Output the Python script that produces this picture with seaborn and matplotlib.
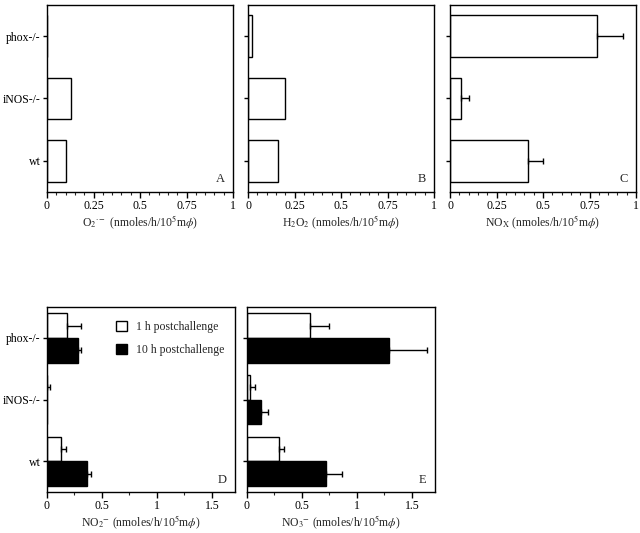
import pandas as pd
import matplotlib
matplotlib.use('Agg')
import matplotlib.pyplot as plt
import seaborn as sns
from matplotlib.ticker import MultipleLocator, FormatStrFormatter

# data
genotypes = ['phox-/-', 'iNOS-/-', 'wt']

o2 = [0.0, 0.13, 0.10]
h2o2 = [0.02, 0.20, 0.16]
nox = [0.79, 0.06, 0.42]
nox_err = [0.14, 0.04, 0.08]

times = ['1 h postchallenge', '10 h postchallenge']
no2_1h = [0.18, 0.0, 0.13]
no2_1h_err = [0.13, 0.03, 0.04]
no2_10h = [0.28, 0.0, 0.36]
no2_10h_err = [0.03, 0.0, 0.04]
no3_1h = [0.57, 0.03, 0.29]
no3_1h_err = [0.18, 0.04, 0.05]
no3_10h = [1.29, 0.13, 0.72]
no3_10h_err = [0.35, 0.06, 0.14]

sns.set_style('ticks')
plt.rcParams['font.family'] = ['Liberation Serif', 'DejaVu Serif']
plt.rcParams['mathtext.fontset'] = 'stix'
plt.rcParams['axes.linewidth'] = 1.0
plt.rcParams['axes.edgecolor'] = 'black'

FS = 8.5


def add_err(ax, container, errs):
    for bar, e in zip(container, errs):
        if e <= 0:
            continue
        x = bar.get_x() + bar.get_width()
        y = bar.get_y() + bar.get_height() / 2
        ax.errorbar(x, y, xerr=[[0], [e]], fmt='none', ecolor='black',
                    elinewidth=1, capsize=2.5, capthick=1)


def style(ax, xmax, major, minor, letter, xlabel, show_y):
    ax.set_xlim(0, xmax)
    ax.set_ylim(2.5, -0.5)
    ax.xaxis.set_major_locator(MultipleLocator(major))
    ax.xaxis.set_minor_locator(MultipleLocator(minor))
    ax.xaxis.set_major_formatter(FormatStrFormatter('%g'))
    ax.tick_params(axis='x', which='major', length=4, width=1, pad=2,
                   labelsize=FS, colors='black')
    ax.tick_params(axis='x', which='minor', length=2, width=0.8)
    ax.tick_params(axis='y', length=3, width=1, pad=1.5, labelsize=FS, colors='black')
    if not show_y:
        ax.set_yticklabels([])
    ax.set_ylabel('')
    ax.set_xlabel(xlabel, fontsize=FS, labelpad=1)
    for s in ax.spines.values():
        s.set_visible(True)
        s.set_color('black')
    ax.text(0.955, 0.035, letter, transform=ax.transAxes, ha='right', va='bottom', fontsize=9)


fig = plt.figure(figsize=(6.4, 5.33), dpi=100)
w, h = 186 / 640, 187 / 533
ax_a = fig.add_axes([47 / 640, 1 - 192 / 533, w, h])
ax_b = fig.add_axes([248 / 640, 1 - 192 / 533, w, h])
ax_c = fig.add_axes([450 / 640, 1 - 192 / 533, w, h])
ax_d = fig.add_axes([47 / 640, 1 - 492 / 533, 188 / 640, 185 / 533])
ax_e = fig.add_axes([247 / 640, 1 - 492 / 533, 188 / 640, 185 / 533])

top = [
    (ax_a, o2, None, 'A', r'O$_2$$^{\cdot -}$ (nmoles/h/10$^5$m$\phi$)', True),
    (ax_b, h2o2, None, 'B', r'H$_2$O$_2$ (nmoles/h/10$^5$m$\phi$)', False),
    (ax_c, nox, nox_err, 'C', r'NO$_\mathrm{X}$ (nmoles/h/10$^5$m$\phi$)', False),
]
for ax, vals, errs, letter, label, show_y in top:
    df = pd.DataFrame({'genotype': genotypes, 'value': vals})
    sns.barplot(data=df, x='value', y='genotype', color='white', edgecolor='black',
                linewidth=1, width=0.67, errorbar=None, ax=ax)
    if errs is not None:
        add_err(ax, ax.containers[0], errs)
    style(ax, 1, 0.25, 0.05, letter, label, show_y)

bottom = [
    (ax_d, no2_1h, no2_1h_err, no2_10h, no2_10h_err, 'D',
     r'NO$_2$$^{-}$ (nmoles/h/10$^5$m$\phi$)', True),
    (ax_e, no3_1h, no3_1h_err, no3_10h, no3_10h_err, 'E',
     r'NO$_3$$^{-}$ (nmoles/h/10$^5$m$\phi$)', False),
]
for ax, v1, e1, v10, e10, letter, label, show_y in bottom:
    df = pd.DataFrame({
        'genotype': genotypes * 2,
        'time': [times[0]] * 3 + [times[1]] * 3,
        'value': v1 + v10,
    })
    sns.barplot(data=df, x='value', y='genotype', hue='time', hue_order=times,
                palette={times[0]: 'white', times[1]: 'black'}, edgecolor='black',
                linewidth=1, width=0.8, errorbar=None, ax=ax)
    add_err(ax, ax.containers[0], e1)
    add_err(ax, ax.containers[1], e10)
    style(ax, 1.71, 0.5, 0.25, letter, label, show_y)
    if show_y:
        ax.legend(loc='upper right', bbox_to_anchor=(1.0, 0.98), frameon=False,
                  fontsize=FS, handlelength=0.9, handleheight=0.9, labelspacing=0.9,
                  handletextpad=0.8, title=None)
    else:
        ax.get_legend().remove()

fig.savefig('out.png', dpi=100)
